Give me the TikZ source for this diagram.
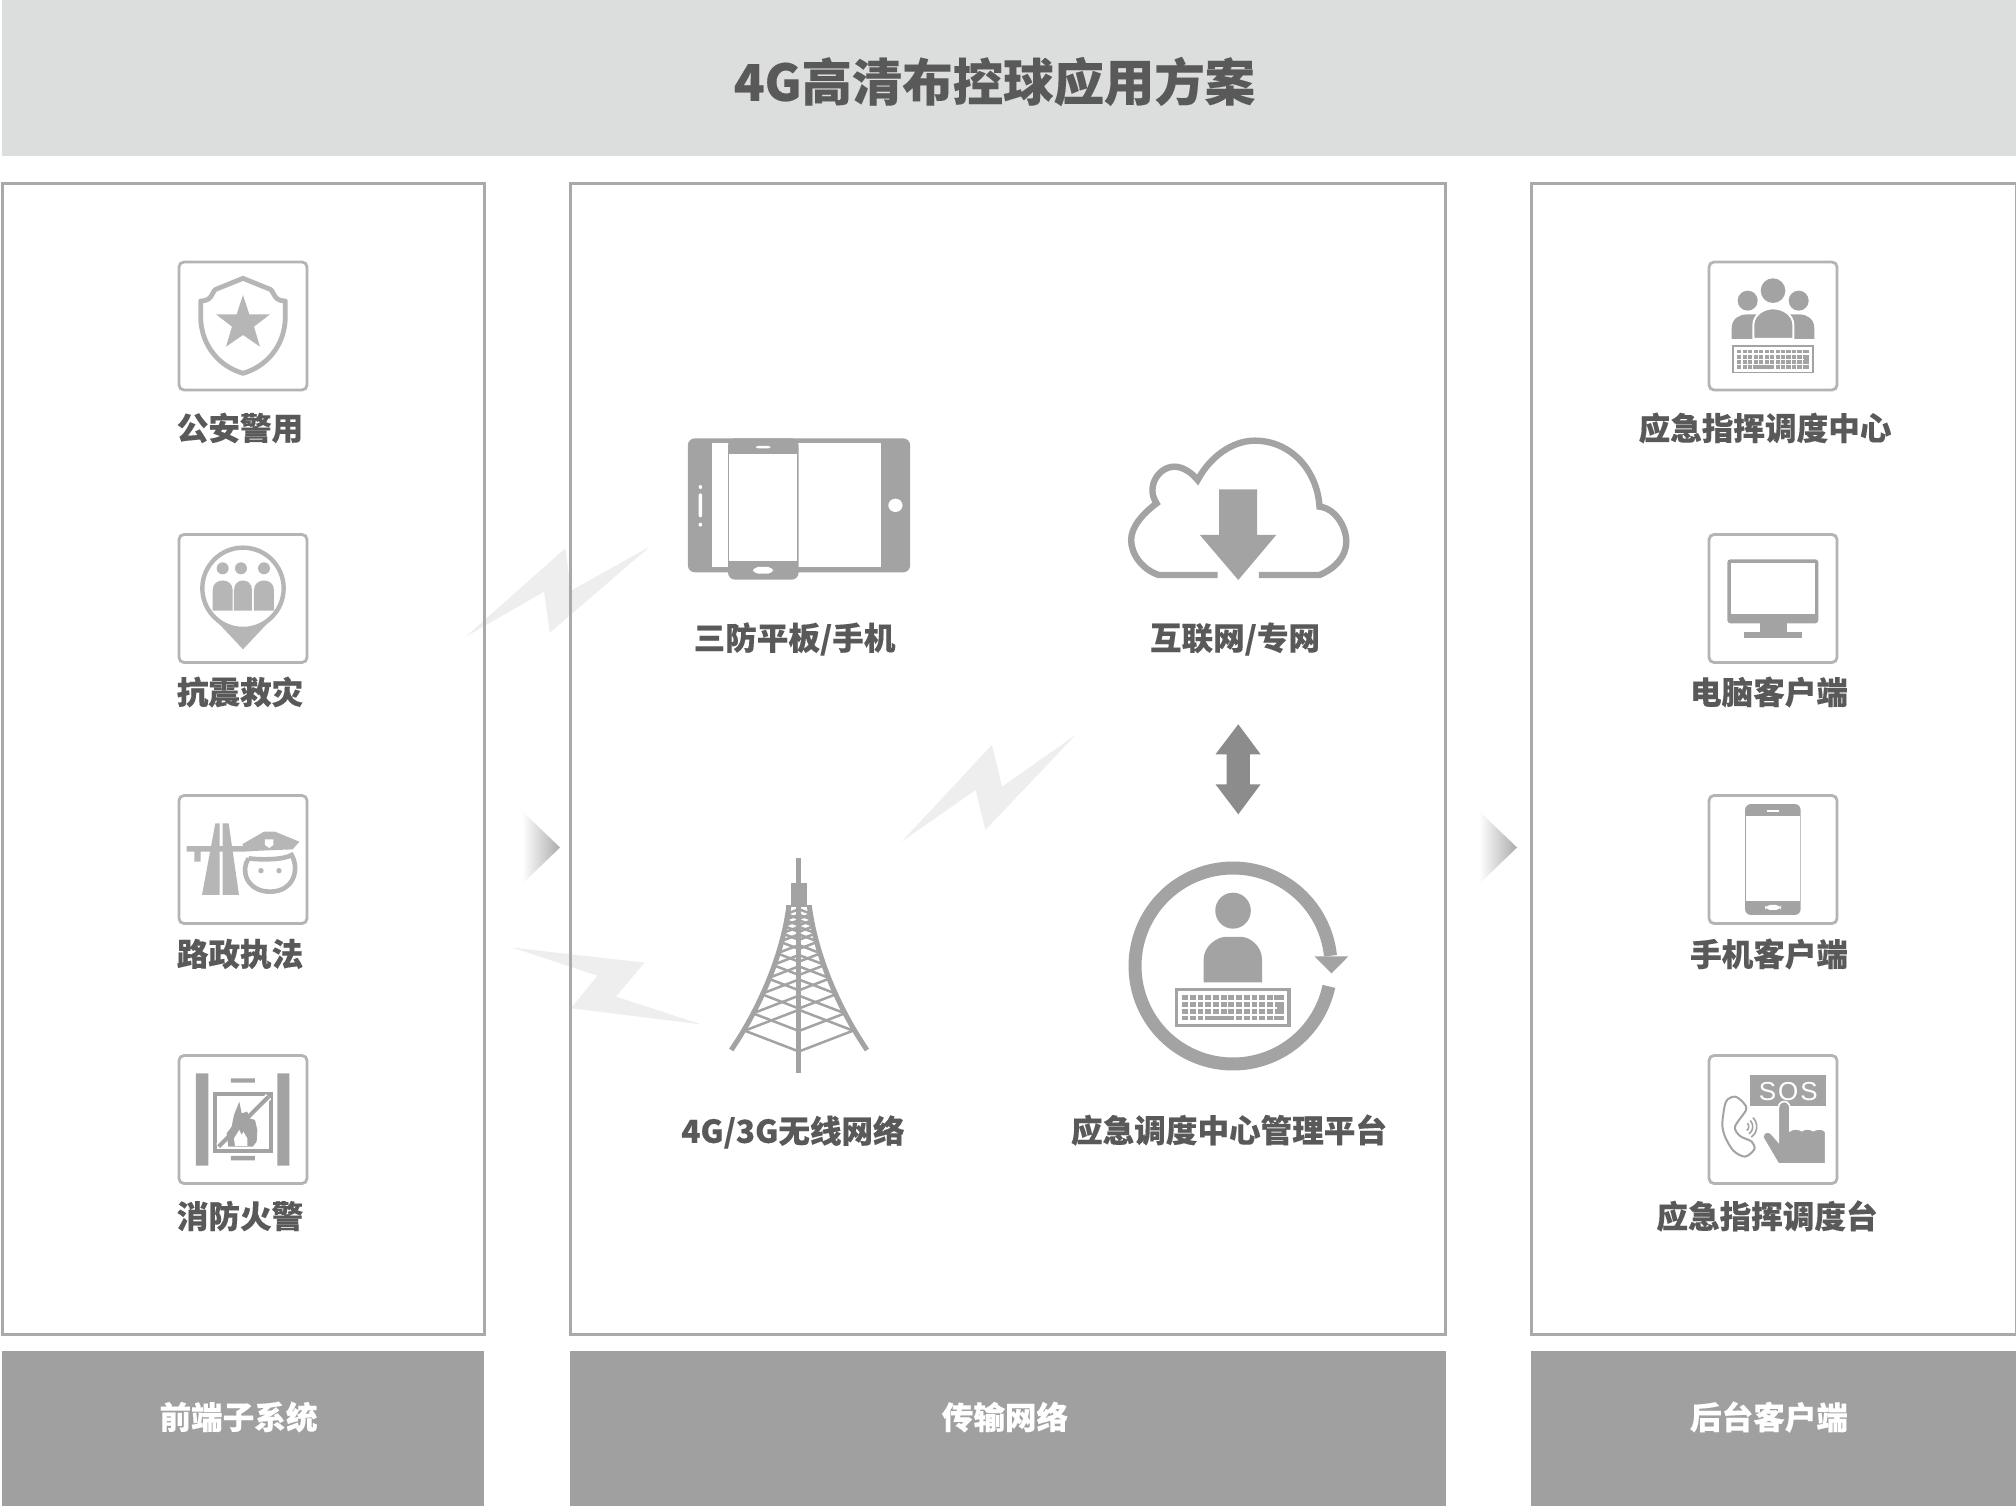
\documentclass[tikz,border=0pt]{standalone}
\usepackage{fontspec}
\setmainfont{Noto Sans CJK SC}[BoldFeatures={FakeBold=0.25}]
\newfontfamily\sosfont{Liberation Sans}
\definecolor{bandtop}{HTML}{DCDEDD}
\definecolor{bandlow}{HTML}{A0A0A0}
\definecolor{edgegray}{HTML}{A9A9A9}
\definecolor{boxgray}{HTML}{B4B4B4}
\definecolor{iconL}{HTML}{B6B6B6}
\definecolor{iconM}{HTML}{A3A3A3}
\definecolor{iconD}{HTML}{8C8C8C}
\definecolor{bolt}{HTML}{EEEEEE}
\definecolor{txt}{HTML}{595959}
\tikzset{
  x=0.5pt,y=-0.5pt,
  panel/.style={draw=edgegray,line width=1.5pt,rectangle,inner sep=0pt,minimum height=575pt},
  lowband/.style={fill=bandlow,rectangle,inner sep=0pt,minimum height=77.5pt,text=white,font=\bfseries\fontsize{15.8}{18}\selectfont},
  iconbox/.style={draw=boxgray,line width=1.4pt,fill=white,rectangle,rounded corners=2.5pt,inner sep=0pt,minimum size=64pt},
  label/.style={text=txt,inner sep=0pt,font=\bfseries\fontsize{15.8}{18}\selectfont},
  boltshape/.style={fill=bolt,draw=none},
  grad/.style={left color=white,right color=black!33,draw=none},
}
\newcommand{\kbdunit}[1]{%
  \fill[#1] (0,0) rectangle (100,100);
  \fill[white] (3,6) rectangle (97,94);
  \foreach \r/\ya/\yb in {0/17/30,1/37/50,2/54/66,3/71/84}{
    \foreach \i in {0,...,12}{
      \fill[#1] ({6.4+\i*6.65},\ya) rectangle ({11.4+\i*6.65},\yb);
    }
  }
  \fill[#1] (26,71) rectangle (46,84);
  \fill[#1] (86,17) rectangle (94,30);
  \fill[#1] (88,37) rectangle (94,66);
  \fill[#1] (86,71) rectangle (94,84);
}
\begin{document}
\begin{tikzpicture}
\useasboundingbox (0,0) rectangle (2016,1508);
\fill[white] (0,0) rectangle (2016,1508);
% lightning bolts, under the frames
\begin{scope}[shift={(460,520)},xscale=0.4082,yscale=0.3333]
 \fill[boltshape] (14,350)--(258,85)--(272,212)--(465,80)--(220,338)--(206,215)--cycle;
 \fill[boltshape] (1082,965)--(1303,675)--(1328,800)--(1508,645)--(1287,930)--(1263,810)--cycle;
 \fill[boltshape] (128,1283)--(452,1328)--(382,1430)--(590,1513)--(272,1465)--(337,1367)--cycle;
\end{scope}
% bands and frames
\node[rectangle,fill=bandtop,inner sep=0pt,minimum width=1007pt,minimum height=78pt] (band) at (1009,78) {};
\node[text=txt,inner sep=0pt,font=\bfseries\fontsize{25.2}{30}\selectfont] (title) at (994.5,81.5) {4G高清布控球应用方案};
\node[panel,minimum width=241pt] (pL) at (243,759) {};
\node[panel,minimum width=437.5pt] (pM) at (1007.8,759) {};
\node[panel,minimum width=242.5pt] (pR) at (1773.5,759) {};
\node[lowband,minimum width=241pt] (bL) at (243,1428.5) {};
\node[lowband,minimum width=438pt] (bM) at (1008,1428.5) {};
\node[lowband,minimum width=242.5pt] (bR) at (1773.5,1428.5) {};
\node[lowband,fill=none,minimum width=0pt,minimum height=0pt] (tL) at (238.5,1417) {前端子系统};
\node[lowband,fill=none,minimum width=0pt,minimum height=0pt] (tM) at (1005,1417) {传输网络};
\node[lowband,fill=none,minimum width=0pt,minimum height=0pt] (tR) at (1769,1417) {后台客户端};
% gradient arrows
\shade[grad] (522,811)--(560,847.5)--(522,884)--cycle;
\shade[grad] (1479,811)--(1517,847.5)--(1479,884)--cycle;
% icon boxes
\node[iconbox] (i1) at (243,326) {};
\node[iconbox] (i2) at (243,598.5) {};
\node[iconbox] (i3) at (243,859.5) {};
\node[iconbox] (i4) at (243,1119.5) {};
\node[iconbox] (i5) at (1773,326) {};
\node[iconbox] (i6) at (1773,598.5) {};
\node[iconbox] (i7) at (1773,859.5) {};
\node[iconbox] (i8) at (1773,1119.5) {};
% labels
\node[label] (l1) at (240,428) {公安警用};
\node[label] (l2) at (240,692) {抗震救灾};
\node[label] (l3) at (240,954) {路政执法};
\node[label] (l4) at (240,1216) {消防火警};
\node[label] (l5) at (1765,428) {应急指挥调度中心};
\node[label] (l6) at (1769,692) {电脑客户端};
\node[label] (l7) at (1769,954) {手机客户端};
\node[label] (l8) at (1767,1216) {应急指挥调度台};
\node[label] (m1) at (794.5,639) {三防平板/手机};
\node[label] (m2) at (1235,639) {互联网/专网};
\node[label] (m3) at (793,1132) {4G/3G无线网络};
\node[label] (m4) at (1229,1130) {应急调度中心管理平台};
% shield and pin
\begin{scope}[shift={(160,240)},scale=0.3333]
 \draw[iconL,line width=2.4pt,line join=round] (249,115)--(175,145) .. controls (150,150) and (165,182) .. (122,183)
   -- (122,235) .. controls (125,320) and (180,380) .. (249,400)
   .. controls (318,380) and (373,320) .. (376,235) -- (376,183)
   .. controls (333,182) and (348,150) .. (323,145) -- cycle;
 \fill[iconL] (249,165)--(268,223)--(330,223)--(282,260)--(300,320)--(249,285)--(198,320)--(216,260)--(168,223)--(230,223)--cycle;
 \fill[iconL] (140,1112)--(249,1228)--(358,1112)--cycle;
 \fill[white] (249,1045) circle[radius=122];
 \draw[iconL,line width=2.2pt] (249,1045) circle[radius=122];
 \fill[iconL] (188,985) circle[radius=18] (243,985) circle[radius=18] (312,985) circle[radius=18];
 \foreach \xa/\xb in {158/218,222/276,282/342}{
   \fill[iconL] (\xa,1112) -- (\xa,1050) .. controls (\xa,1012) and (\xb,1012) .. (\xb,1050) -- (\xb,1112) -- cycle;
 }
\end{scope}
% road police and fire
\begin{scope}[shift={(160,780)},scale=0.3333]
 \fill[iconL] (166,130)--(179,130)--(179,345)--(126,345)--cycle;
 \fill[iconL] (188,130)--(206,130)--(237,345)--(188,345)--cycle;
 \fill[iconL] (80,198)--(250,198)--(250,215)--(122,215)--(122,245)--(103,245)--(103,215)--(80,215)--cycle;
 \fill[iconL] (248,192)--(312,155)--(345,155)--(418,185)--(398,208)--(300,212)--(250,215)--cycle;
 \fill[white] (315,178)--(340,178)--(340,195)--(328,204)--(315,195)--cycle;
 \draw[iconL,line width=2.3pt] (266,235) .. controls (240,270) and (260,335) .. (330,335) .. controls (400,335) and (420,270) .. (395,225) .. controls (370,240) and (300,240) .. (266,235);
 \fill[iconL] (303,272) circle[radius=8] (357,272) circle[radius=8];
 \fill[iconM] (108,880) rectangle (145,1157) (352,880) rectangle (388,1157);
 \fill[iconM] (213,895) rectangle (285,908) (213,1128) rectangle (285,1141);
 \draw[iconM,line width=2.1pt] (165,942) rectangle (333,1113);
 \draw[white,line width=3.6pt] (176,1100)--(326,950);
 \draw[iconM,line width=2pt] (176,1100)--(326,950);
 \fill[iconM] (205,1100)--(200,1060)--(215,1040)--(222,1005)--(238,965)--(245,1000)--(262,995)--(268,1015)--(285,1020)--(292,1050)--(290,1085)--(278,1100)--cycle;
 \fill[white] (225,1098)--(222,1075)--(238,1050)--(245,1065)--(250,1055)--(262,1075)--(262,1098)--cycle;
\end{scope}
% tablet and cloud
\begin{scope}[shift={(670,420)},xscale=0.4464,yscale=0.3333]
 \fill[iconM,rounded corners=3.5pt] (40,55) rectangle (538,457);
 \fill[white] (94,70) rectangle (473,441);
 \fill[iconM,rounded corners=3.5pt] (130,55) rectangle (288,479);
 \fill[white] (132,102) rectangle (285,423);
 \fill[white,rounded corners=1pt] (193,78) rectangle (225,85);
 \fill[white,rounded corners=2.5pt] (186,441) rectangle (231,461);
 \fill[white] (68,201) ellipse[x radius=4,y radius=6] (68,314) ellipse[x radius=4,y radius=6];
 \fill[white,rounded corners=1pt] (64,220) rectangle (72,292);
 \fill[white] (505,256) ellipse[x radius=16,y radius=20];
 \draw[iconM,line width=3.2pt] (1227,465)--(1095,465) .. controls (1060,450) and (1033,405) .. (1033,360)
  .. controls (1033,320) and (1060,280) .. (1090,250)
  .. controls (1065,200) and (1095,140) .. (1130,140)
  .. controls (1150,140) and (1170,160) .. (1182,180)
  .. controls (1210,110) and (1260,62) .. (1310,62)
  .. controls (1390,62) and (1450,150) .. (1455,260)
  .. controls (1490,265) and (1515,320) .. (1515,365)
  .. controls (1515,410) and (1490,445) .. (1455,465) -- (1319,465);
 \fill[iconM] (1230,208)--(1315,208)--(1315,345)--(1358,345)--(1273,480)--(1187,345)--(1230,345)--cycle;
 \fill[iconD] (1273,913)--(1323,1003)--(1299,1003)--(1299,1093)--(1323,1093)--(1273,1183)--(1222,1093)--(1247,1093)--(1247,1003)--(1222,1003)--cycle;
\end{scope}
% tower and management platform
\begin{scope}[shift={(700,840)},xscale=0.4337,yscale=0.3333]
 \draw[iconM,line width=2.4pt] (228,55)--(228,700);
 \fill[iconM] (210,130) rectangle (247,195);
 \fill[iconM] (199,195) rectangle (258,202);
 \draw[iconM,line width=2.5pt] (205,197) .. controls (190,350) and (135,510) .. (72,630);
 \draw[iconM,line width=2.5pt] (252,197) .. controls (267,350) and (322,510) .. (385,630);
 \foreach \y/\w in {572/125,520/106,462/87,415/72,375/60,340/50,305/44,280/39,258/35,240/32,222/29}{
   \draw[iconM,line width=1.25pt] (228-\w,\y)--(228,\y+0.5*\w)--(228+\w,\y);
   \draw[iconM,line width=1.25pt] (228-\w,\y)--(228,\y-0.5*\w)--(228+\w,\y);
 }
 \fill[iconM] (1417,349)--(1495,349)--(1456,400)--cycle;
 \fill[iconM] (1229,212) ellipse[x radius=41,y radius=54];
 \fill[iconM] (1161,427)--(1161,360) .. controls (1161,315) and (1195,291) .. (1210,291) -- (1250,291) .. controls (1265,291) and (1296,315) .. (1296,360) -- (1296,427)--cycle;
\end{scope}
\draw[iconM,line width=6.5pt] plot[domain=12:354,samples=90,smooth] ({1233+98*cos(\x)},{966+98*sin(\x)});
\begin{scope}[shift={(1174.8,988.3)},xscale=1.158,yscale=0.383]
 \kbdunit{iconM}
\end{scope}
% people with keyboard and monitor
\begin{scope}[shift={(1690,250)},scale=0.3333]
 \fill[iconM] (249,122) circle[radius=37] (173,152) circle[radius=30] (326,152) circle[radius=30];
 \fill[iconM] (125,267)--(125,235) .. controls (125,205) and (150,193) .. (170,193) -- (210,193) -- (210,267) -- cycle;
 \fill[iconM] (373,267)--(373,235) .. controls (373,205) and (348,193) .. (328,193) -- (290,193) -- (290,267) -- cycle;
 \fill[iconM,draw=white,line width=1pt] (190,267)--(190,225) .. controls (190,195) and (220,175) .. (249,175) .. controls (280,175) and (310,195) .. (310,225) -- (310,267) -- cycle;
 \fill[iconM,rounded corners=1.5pt] (112,928) rectangle (385,1120);
 \fill[white] (122,940) rectangle (375,1092);
 \fill[iconM] (210,1118) rectangle (290,1147);
 \fill[iconM] (163,1145) rectangle (335,1165);
\end{scope}
\begin{scope}[shift={(1731.7,345)},xscale=0.8267,yscale=0.2833]
 \kbdunit{iconM}
\end{scope}
% phone and sos
\begin{scope}[shift={(1690,780)},scale=0.3333]
 \fill[iconM,rounded corners=3pt] (165,72) rectangle (332,405);
 \fill[white] (168,107) rectangle (330,362);
 \fill[white] (232,90) rectangle (266,95);
 \fill[white,rounded corners=2.5pt] (225,375) rectangle (273,390);
 \fill[iconM] (180,885) rectangle (407,978);
 \node[text=white,inner sep=0pt,font=\sosfont\fontsize{13}{15}\selectfont] (sos) at (295,935) {S\kern1pt O\kern1pt S};
 \fill[iconM,draw=white,line width=0.8pt] (265,1085)--(265,985) .. controls (265,958) and (300,958) .. (300,985)
   --(300,1052) .. controls (310,1045) and (325,1045) .. (335,1052) .. controls (345,1045) and (360,1045) .. (370,1052) .. controls (380,1045) and (400,1045) .. (407,1055)
   --(407,1152)--(265,1152)--(218,1072) .. controls (220,1055) and (235,1050) .. (245,1062)--cycle;
 \draw[iconM,line width=1pt] plot[smooth cycle] coordinates {(97,1030) (108,965) (135,950) (160,968) (168,990) (135,1040) (150,1068) (185,1085) (193,1108) (165,1130) (130,1112) (105,1070)};
 \foreach \r in {14,26,38}{
  \draw[iconM,line width=0.8pt] plot[domain=-45:55,samples=12,smooth] ({162+\r*cos(\x)},{1040+\r*sin(\x)});
 }
\end{scope}
\end{tikzpicture}
\end{document}
